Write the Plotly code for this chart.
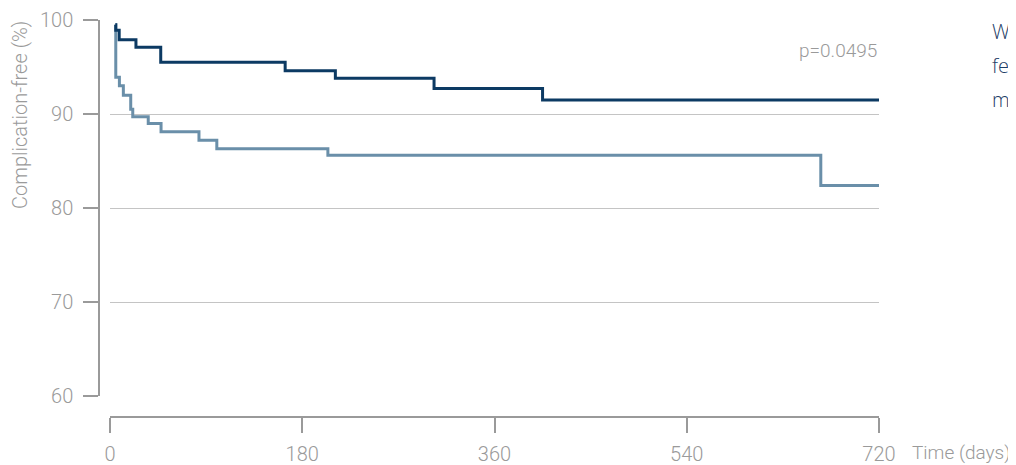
import plotly.graph_objects as go

# Kaplan-Meier style step data (days, % complication-free)
dark_t = [5, 5.4, 8.6, 24.3, 47.5, 164, 211, 303.4, 405, 720]
dark_s = [99.5, 98.9, 97.9, 97.1, 95.5, 94.6, 93.8, 92.7, 91.5, 91.5]

light_t = [5, 5.4, 8.8, 12.5, 19.4, 21.3, 35.8, 47.8, 83.3, 100, 204, 665.5, 720]
light_s = [99.5, 93.9, 93.0, 92.0, 90.5, 89.7, 89.0, 88.1, 87.2, 86.3, 85.6, 82.4, 82.4]

x_ticks = [0, 180, 360, 540, 720]
y_ticks = [60, 70, 80, 90, 100]

DARK = "#0c3a63"
LIGHT = "#6a8fa9"
GREY = "#9a9a9a"
FONT = "Roboto"

# the page body adds an 8px offset; margins compensate for it
OFF = 8

fig = go.Figure()
fig.add_trace(go.Scatter(x=light_t, y=light_s, mode="lines", line=dict(color=LIGHT, width=3, shape="hv"),
                         showlegend=False, hoverinfo="skip"))
fig.add_trace(go.Scatter(x=dark_t, y=dark_s, mode="lines", line=dict(color=DARK, width=3, shape="hv"),
                         showlegend=False, hoverinfo="skip"))

fig.update_layout(
    width=1016, height=465,
    margin=dict(l=99 - OFF, r=1016 - 879 + OFF, t=20 - OFF, b=465 - 417 + OFF),
    paper_bgcolor="white", plot_bgcolor="white",
    font=dict(family=FONT, color=GREY, size=20, weight=300),
    xaxis=dict(range=[0, 720], domain=[11 / 780, 1], anchor="free", position=0, automargin=False,
               tickvals=x_ticks, ticktext=[str(v) for v in x_ticks],
               showgrid=False, zeroline=False, showline=True, linecolor=GREY, linewidth=1.5,
               ticks="outside", ticklen=15, tickwidth=1.5, tickcolor=GREY,
               ticklabelstandoff=4, tickfont=dict(family=FONT, size=20, color=GREY, weight=300)),
    yaxis=dict(range=[60, 100], domain=[21 / 397, 1], anchor="free", position=0, automargin=False,
               tickvals=y_ticks, ticktext=[str(v) for v in y_ticks],
               showgrid=True, gridcolor="#c4c4c4", gridwidth=1, zeroline=False,
               showline=True, linecolor=GREY, linewidth=1.5,
               ticks="outside", ticklen=15, tickwidth=1.5, tickcolor=GREY,
               ticklabelstandoff=6, tickfont=dict(family=FONT, size=20, color=GREY, weight=300)),
)

fig.add_annotation(text="Complication-free (%)", textangle=-90, xref="paper", yref="paper",
                   x=-79 / 780, y=(417 - 115) / 397, xanchor="center", yanchor="middle",
                   borderpad=0, showarrow=False, font=dict(family=FONT, size=20, color=GREY, weight=300))
fig.add_annotation(text="Time (days)", xref="paper", yref="paper",
                   x=(910 - 99) / 780, y=(417 - 452) / 397, xanchor="left", yanchor="middle",
                   showarrow=False, font=dict(family=FONT, size=19, color=GREY, weight=300))
fig.add_annotation(text="p=0.0495", xref="x", yref="y", x=720, y=96.8,
                   xanchor="right", yanchor="middle", showarrow=False,
                   font=dict(family=FONT, size=19, color=GREY, weight=300))

legend_lines = ["W", "fe", "m"]
legend_y = [32, 66, 100]
for txt, py in zip(legend_lines, legend_y):
    fig.add_annotation(text=txt, xref="paper", yref="paper",
                       x=(990 - 99) / 780, y=(417 - py) / 397, xanchor="left", yanchor="middle",
                       showarrow=False, font=dict(family="Open Sans", size=20, color="#1d3d66"))

fig.write_html("out.html")
